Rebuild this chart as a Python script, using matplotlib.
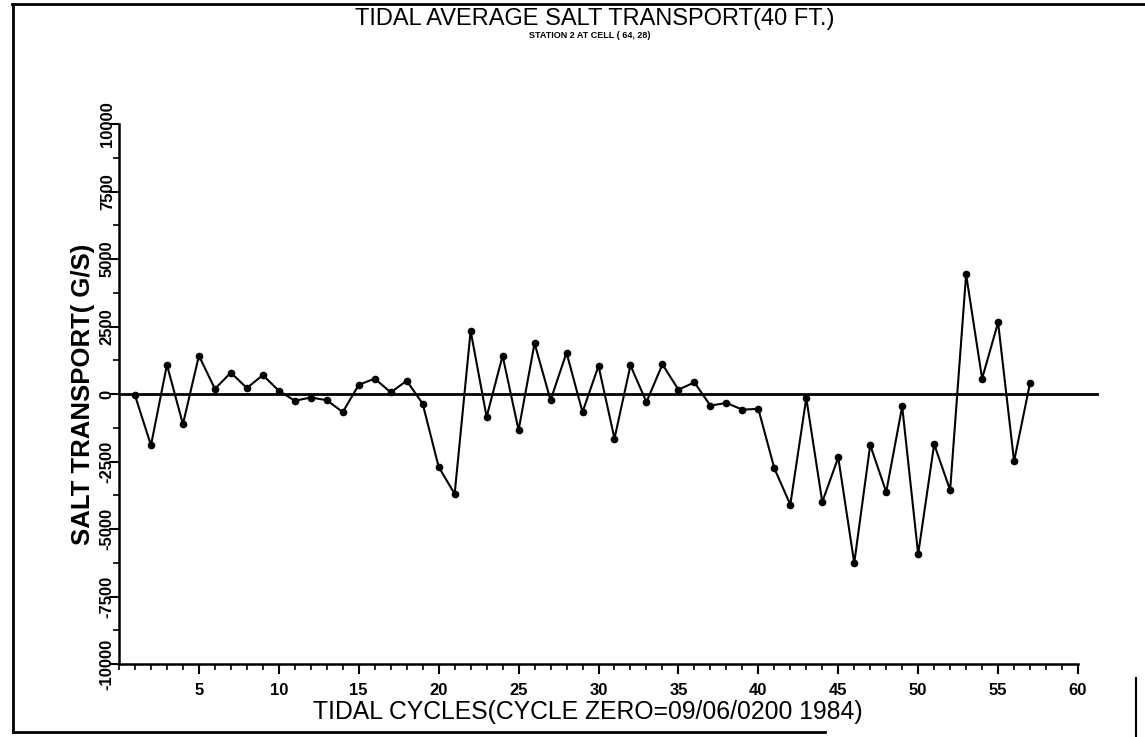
import matplotlib
matplotlib.use("Agg")
import matplotlib.pyplot as plt
from matplotlib.ticker import MultipleLocator
from matplotlib.lines import Line2D

cycles = list(range(1, 58))
transport = [-50, -1900, 1080, -1120, 1420, 190, 790, 220, 700, 120,
             -250, -130, -230, -670, 340, 570, 60, 490, -360, -2700,
             -3700, 2340, -850, 1420, -1340, 1880, -230, 1530, -670, 1040,
             -1650, 1060, -300, 1100, 160, 430, -430, -330, -580, -550,
             -2750, -4100, -150, -4000, -2350, -6260, -1890, -3630, -460, -5930,
             -1860, -3560, 4430, 570, 2650, -2490, 410]

ytick_vals = [-10000, -7500, -5000, -2500, 0, 2500, 5000, 7500, 10000]
ytick_labels = ["-10000", "-7500", "-5000", "-2500", "0", "2500", "5000", "7500", "10000"]
xtick_vals = [5, 10, 15, 20, 25, 30, 35, 40, 45, 50, 55, 60]

title = "TIDAL AVERAGE SALT TRANSPORT(40 FT.)"
subtitle = "STATION 2 AT CELL ( 64, 28)"
xlabel = "TIDAL CYCLES(CYCLE ZERO=09/06/0200 1984)"
ylabel = "SALT TRANSPORT( G/S)"

plt.rcParams['font.family'] = ['Liberation Sans', 'DejaVu Sans']

W, H = 1145, 737
fig = plt.figure(figsize=(W/100, H/100), dpi=100)
ax = fig.add_axes([119/W, 1-664/H, (1078-119)/W, (664-124)/H])

ax.plot(cycles, transport, color='black', lw=1.5, marker='o', ms=4.5)
ax.plot([0, 61.2], [0, 0], color='black', lw=2.0, clip_on=False)

ax.set_xlim(0, 60)
ax.set_ylim(-10000, 10000)
for s in ['top', 'right']:
    ax.spines[s].set_visible(False)
for s in ['left', 'bottom']:
    ax.spines[s].set_linewidth(1.8)

ax.set_xticks(xtick_vals)
ax.set_xticklabels([str(v) for v in xtick_vals], fontsize=12, fontweight='bold')
ax.xaxis.set_minor_locator(MultipleLocator(1))
ax.set_yticks(ytick_vals)
ax.set_yticklabels(ytick_labels, fontsize=12, fontweight='bold', rotation=90, va='center')
ax.yaxis.set_minor_locator(MultipleLocator(1250))
ax.tick_params(axis='both', which='major', length=7, width=1.5, direction='out')
ax.tick_params(axis='both', which='minor', length=4, width=1.2, direction='out')
ax.tick_params(axis='x', pad=7)
ax.tick_params(axis='y', pad=-4)

ax.set_ylabel(ylabel, fontsize=18.5, fontweight='bold')
ax.yaxis.set_label_coords((95 - 119) / 959, 0.5)
fig.text(588/W, 1-712/H, xlabel, fontsize=17.8, ha='center', va='center')

fig.text(595/W, 1-19/H, title, fontsize=17, ha='center', va='center')
fig.text(590/W, 1-36/H, subtitle, fontsize=6.5, fontweight='bold', ha='center', va='center')

# scan frame
fw = 2.0
fig.add_artist(Line2D([12/W, 1.0], [1-4/H, 1-4/H], color='black', lw=fw))
fig.add_artist(Line2D([13/W, 13/W], [1-4/H, 1-732/H], color='black', lw=fw))
fig.add_artist(Line2D([13/W, 825/W], [1-732/H, 1-732/H], color='black', lw=fw))
fig.add_artist(Line2D([1136/W, 1136/W], [1-678/H, 0.0], color='black', lw=1.5))

fig.savefig("out.png", dpi=100)
